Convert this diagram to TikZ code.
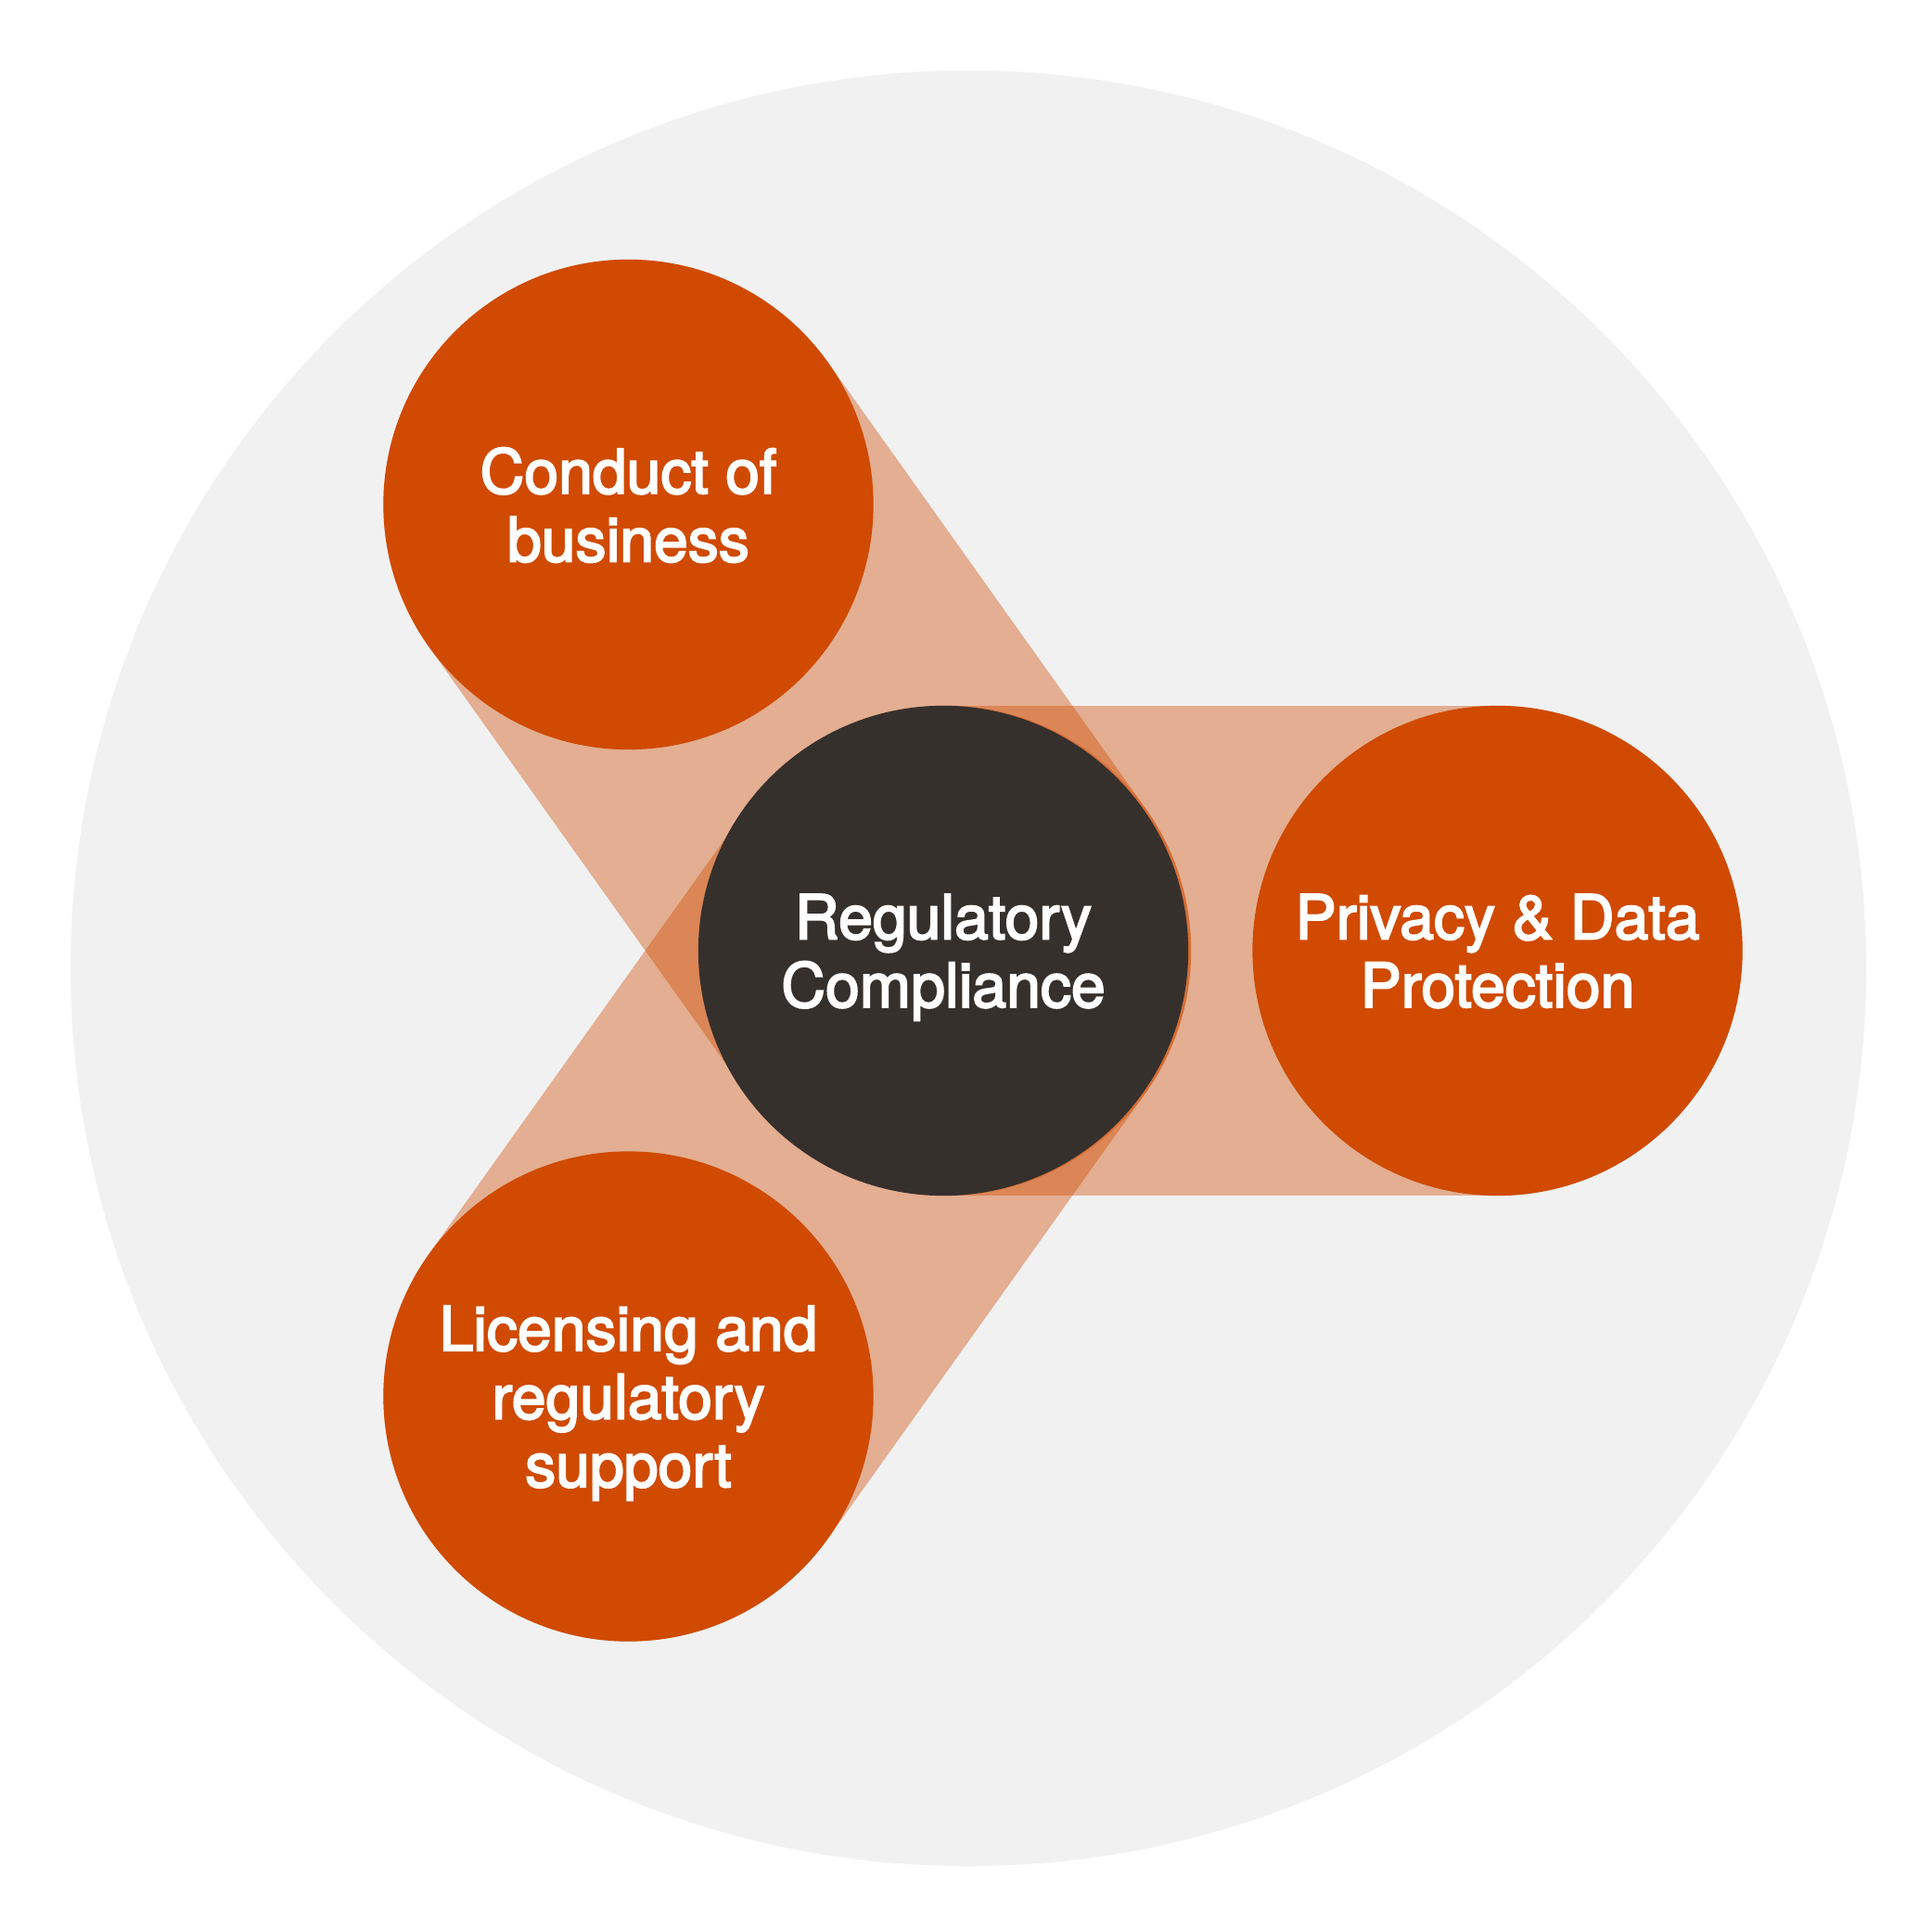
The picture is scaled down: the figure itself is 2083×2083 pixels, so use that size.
\documentclass[tikz,border=0pt]{standalone}
\usepackage{fontspec}
\setmainfont{TeX Gyre Heros}[RawFeature={embolden=3}]
\usetikzlibrary{backgrounds}
\definecolor{pwcorange}{HTML}{D04A02}
\definecolor{hubgrey}{HTML}{36302D}
\definecolor{ringgrey}{HTML}{F1F1F1}
\begin{document}
\begin{tikzpicture}[x=0.01cm,y=-0.01cm,
 disc/.style={circle,minimum size=5.28cm,inner sep=0pt,fill=pwcorange,text=white,
   align=center,text depth=0pt,font=\fontsize{18.8}{20.9}\selectfont},
 band/.style={line width=5.28cm,line cap=round,draw=pwcorange,draw opacity=0.4}]
 \useasboundingbox (0,0) rectangle (2083,2083);
 \node[disc] (conduct) at (677.5,544) {Conduct of\\business};
 \node[disc] (licensing) at (677.5,1505.5) {Licensing and\\regulatory\\support};
 \node[disc] (privacy) at (1614.5,1025) {Privacy \& Data\\Protection};
 \node[disc,fill=hubgrey] (regcomp) at (1017,1025) {Regulatory\\Compliance};
 \coordinate (hub) at (1020,1025);
 \begin{scope}[on background layer]
 \fill[ringgrey] (1044,1044) circle (968);
 \draw[band] (privacy.center) -- (hub);
 \draw[band] (conduct.center) -- (hub);
 \draw[band] (licensing.center) -- (hub);
 \end{scope}
\end{tikzpicture}
\end{document}
